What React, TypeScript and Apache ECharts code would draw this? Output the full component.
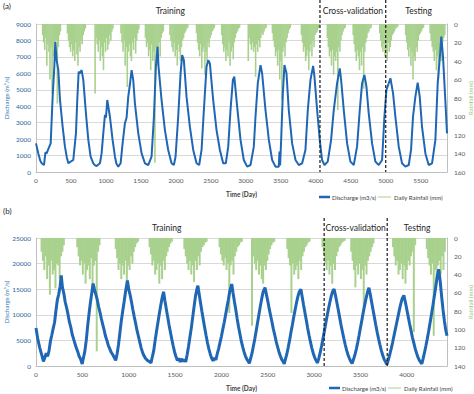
import React, { useEffect, useRef } from 'react';
import * as echarts from 'echarts';

// ---------- data ----------
const dayMaxA = 5876;
const dayMaxB = 4433;
const dayTickStep = 500;

const dischargeTicksA = { max: 9000, step: 1000 };
const dischargeTicksB = { max: 25000, step: 5000 };
const rainTicksA = { max: 160, step: 20 };
const rainTicksB = { max: 140, step: 20 };

// panel (a) discharge, [day, m3/s]
const dischargeA: [number, number][] = [
  [0,1740],[33,1130],[60,700],[81,530],[114,425],[135,1200],[152,1130],[190,1540],[210,1740],[238,4580],[262,6400],[276,7900],[295,6800],[319,6200],[343,4380],[381,2750],[414,1540],[440,900],[462,530],[495,630],
  [533,730],[571,2350],[590,4380],[610,6100],[630,6000],[652,6200],[676,5600],[714,3570],[748,1950],[781,930],[819,530],[845,400],[867,365],[914,530],
  [938,1130],[962,2350],[986,3470],[1000,3300],[1019,4380],[1057,3360],[1095,1950],[1129,930],[1150,500],[1176,325],[1210,530],
  [1238,1740],[1271,2960],[1295,3300],[1319,4580],[1345,5400],[1367,6200],[1390,5600],[1414,4180],[1462,2350],[1510,1130],[1557,530],[1605,425],
  [1652,930],[1686,3360],[1714,6400],[1738,7620],[1752,6400],[1795,4380],[1843,2550],[1890,1340],[1938,530],[1971,425],
  [1995,930],[2033,3360],[2067,6000],[2090,7110],[2114,6800],[2152,4580],[2200,2750],[2248,1340],[2295,530],[2333,425],
  [2367,1340],[2400,3770],[2438,6400],[2462,6800],[2486,6600],[2533,4380],[2581,2550],[2629,1340],[2676,530],[2714,530],
  [2748,1540],[2781,3770],[2815,5600],[2835,5800],[2876,3970],[2924,1950],[2971,730],[3019,325],[3067,425],
  [3114,1540],[3138,3360],[3171,5400],[3210,6500],[3233,6000],[3281,3770],[3329,1950],[3376,730],[3424,325],[3471,325],[3481,1240],[3490,400],
  [3505,1950],[3529,4780],[3552,6500],[3581,6000],[3614,3770],[3662,1740],[3710,730],[3757,425],[3805,530],
  [3852,1340],[3886,3770],[3924,5600],[3962,6450],[3981,5800],[4019,3770],[4057,1950],[4090,730],[4124,425],[4171,630],
  [4219,1950],[4257,3770],[4305,5400],[4343,6300],[4362,5600],[4400,3770],[4448,1740],[4495,630],[4543,425],
  [4590,1540],[4629,3770],[4662,5400],[4695,5900],[4724,5200],[4757,3570],[4805,1740],[4852,630],[4900,425],[4948,730],
  [4981,3360],[5010,4990],[5043,5400],[5067,5700],[5105,4780],[5138,3360],[5186,1540],[5233,530],[5281,325],[5329,425],
  [5362,1340],[5390,3360],[5424,4580],[5457,5430],[5486,4580],[5519,2750],[5567,1130],[5614,425],[5662,530],
  [5710,1950],[5743,5400],[5771,6800],[5795,8230],[5819,7000],[5852,4380],[5876,2350],
];

// panel (b) discharge, [day, m3/s]
const dischargeB: [number, number][] = [
  [0,7400],[20,5200],[40,3600],[60,2300],[80,900],[95,1600],[110,2500],[125,1900],[140,2900],[155,4800],[170,6000],[185,7300],[200,8500],[215,10800],[230,12900],[245,14000],[260,15600],[272,17700],[285,15400],[300,14200],[315,12500],[330,11400],[345,10100],[360,8600],[375,7600],[390,6200],[405,5300],[420,4400],[435,3500],[450,2800],[465,1900],[480,1400],[498,400],
  [512,1600],[527,2900],[542,5000],[557,7800],[572,10200],[587,12400],[602,14300],[616,16100],[630,15000],[645,14000],[660,13000],[675,11600],[690,10500],[705,9200],[720,8100],[735,7000],[750,5800],[765,5000],[780,4000],[795,3400],[810,2700],[825,2300],[840,1800],[860,1100],
  [875,2400],[890,4200],[905,6500],[920,8800],[935,10700],[950,12500],[965,14400],[986,16700],[1000,15000],[1015,13900],[1030,12500],[1045,11000],[1060,9600],[1075,8300],[1090,6900],[1105,5800],[1120,4600],[1135,3500],[1150,2600],[1165,2000],[1180,1500],[1200,1100],[1220,900],[1240,600],
  [1255,1800],[1270,3000],[1285,5000],[1300,6800],[1315,8500],[1330,10200],[1345,11800],[1360,13300],[1376,14500],[1390,12800],[1405,11200],[1420,9600],[1435,8000],[1450,6600],[1465,5200],[1480,3900],[1495,2700],[1510,1800],[1525,1100],[1540,1500],[1555,800],[1570,1400],[1585,900],[1600,1300],[1615,800],
  [1630,2200],[1645,3800],[1660,5600],[1675,7400],[1690,9500],[1705,11600],[1720,13600],[1735,15000],[1746,15700],[1760,14000],[1775,12300],[1790,10600],[1805,9000],[1820,7400],[1835,5900],[1850,4500],[1865,3300],[1880,2300],[1895,1500],[1910,1000],[1925,1600],[1940,1200],
  [1955,2400],[1970,3400],[1985,4600],[2000,5800],[2015,7200],[2030,8500],[2045,10000],[2060,11500],[2075,13000],[2090,14600],[2111,16000],[2125,14300],[2140,12600],[2155,11000],[2170,9200],[2185,7600],[2200,6200],[2215,4800],[2230,3700],[2245,2700],[2260,1900],[2275,1300],[2290,900],[2301,500],
  [2315,1500],[2330,2500],[2345,3900],[2360,5300],[2375,6900],[2390,8500],[2405,10100],[2420,11700],[2435,13200],[2450,14500],[2470,15300],[2485,14000],[2500,12700],[2515,11200],[2530,9900],[2545,8600],[2560,7200],[2575,6100],[2590,4800],[2605,3800],[2620,2800],[2635,2000],[2650,1300],[2665,900],[2677,400],
  [2690,1300],[2705,2300],[2720,3600],[2735,5000],[2750,6600],[2765,8000],[2780,9600],[2795,11000],[2810,12400],[2825,13600],[2840,14500],[2857,15000],[2870,13600],[2885,12000],[2900,10500],[2915,9000],[2930,7400],[2945,6000],[2960,4700],[2975,3500],[2990,2500],[3005,1700],[3020,1100],[3036,600],
  [3050,1500],[3065,2600],[3080,3900],[3095,5300],[3110,6800],[3125,8300],[3140,9800],[3155,11200],[3170,12500],[3185,13700],[3200,14600],[3215,15000],[3230,13800],[3245,12400],[3260,11000],[3275,9500],[3290,8000],[3305,6700],[3320,5400],[3335,4200],[3350,3100],[3365,2200],[3380,1500],[3395,900],[3410,500],
  [3425,1300],[3440,2200],[3455,3300],[3470,4600],[3485,6000],[3500,7500],[3515,9000],[3530,10500],[3545,11900],[3560,13200],[3575,14400],[3591,15300],[3605,14000],[3620,12500],[3635,11000],[3650,9500],[3665,8000],[3680,6600],[3695,5300],[3710,4100],[3725,3000],[3740,2100],[3755,1300],[3770,800],[3785,300],
  [3800,1200],[3815,2200],[3830,3300],[3845,4500],[3860,5800],[3875,7100],[3890,8400],[3905,9700],[3920,11000],[3935,12200],[3950,13200],[3968,13800],[3985,12400],[4000,11000],[4015,9600],[4030,8200],[4045,6900],[4060,5600],[4075,4500],[4090,3400],[4105,2500],[4120,1700],[4135,1100],[4150,700],[4161,400],
  [4175,1400],[4190,2600],[4205,3900],[4220,5300],[4235,6800],[4250,8400],[4265,10000],[4280,11700],[4295,13500],[4310,15300],[4325,17200],[4344,18900],[4360,16500],[4375,13600],[4390,11000],[4405,8800],[4420,7000],[4433,5900],
];

// daily rainfall (mm), wet seasons sampled every RAIN_STEP days from each start day
const RAIN_STEP = 15;
const rainStartsA = [95, 450, 845, 1215, 1565, 1915, 2295, 2655, 3035, 3380, 3795, 4165, 4535, 4915, 5285, 5635];
const rainA: number[][] = [
  [12, 20, 28, 15, 45, 22, 30, 60, 25, 75, 35, 20, 40, 18, 86, 25, 12, 8],
  [10, 18, 25, 30, 22, 35, 28, 40, 20, 33, 45, 25, 30, 18, 22, 12, 8, 5],
  [75, 15, 22, 30, 18, 40, 25, 35, 50, 20, 30, 15, 28, 22, 12, 18, 8, 5],
  [10, 20, 30, 18, 45, 25, 68, 30, 22, 35, 40, 20, 28, 15, 32, 18, 10, 6],
  [15, 25, 20, 35, 28, 50, 22, 40, 30, 150, 25, 45, 30, 20, 35, 15, 10, 8],
  [12, 18, 25, 30, 20, 35, 28, 45, 22, 30, 40, 25, 18, 15, 10, 8, 5, 4],
  [10, 20, 28, 35, 22, 48, 30, 25, 55, 30, 40, 20, 25, 15, 12, 8, 6, 4],
  [12, 22, 30, 25, 40, 28, 35, 20, 45, 30, 25, 38, 20, 15, 10, 8, 5, 4],
  [40, 15, 22, 28, 20, 30, 25, 57, 22, 30, 18, 25, 15, 10, 12, 8, 5, 4],
  [10, 18, 25, 35, 30, 45, 28, 60, 40, 82, 30, 25, 35, 20, 15, 10, 6, 4],
  [12, 20, 30, 25, 40, 35, 28, 50, 30, 22, 35, 18, 25, 12, 10, 8, 5, 4],
  [15, 25, 35, 30, 45, 28, 55, 35, 40, 30, 93, 25, 30, 18, 12, 8, 5, 4],
  [12, 22, 30, 40, 28, 35, 50, 30, 45, 25, 70, 30, 20, 15, 10, 8, 5, 4],
  [10, 18, 25, 30, 22, 35, 28, 40, 20, 30, 25, 18, 12, 10, 8, 5, 4, 3],
  [12, 20, 28, 35, 25, 45, 30, 60, 35, 40, 25, 30, 18, 12, 10, 8, 5, 4],
  [10, 18, 25, 30, 40, 28, 50, 35, 60, 30, 25, 40, 20, 15, 12],
];
const rainStartsB = [60, 445, 860, 1225, 1600, 1980, 2330, 2710, 3090, 3400, 3850, 4215];
const rainB: number[][] = [
  [15, 25, 35, 20, 45, 30, 62, 25, 40, 35, 55, 28, 30, 45, 20, 15, 8],
  [10, 20, 30, 25, 40, 28, 50, 35, 30, 45, 22, 60, 30, 25, 124, 15, 8],
  [12, 22, 35, 28, 45, 30, 40, 25, 55, 30, 35, 20, 28, 15, 10, 6, 4],
  [10, 18, 30, 25, 40, 35, 28, 50, 30, 45, 25, 35, 20, 15, 10, 6, 4],
  [12, 20, 28, 35, 25, 40, 30, 48, 25, 35, 20, 30, 15, 10, 8, 5, 4],
  [10, 18, 25, 30, 22, 35, 28, 82, 30, 25, 40, 20, 15, 10, 8, 5, 4],
  [96, 20, 28, 35, 25, 40, 30, 45, 50, 30, 35, 25, 18, 12, 8, 5, 4],
  [12, 22, 30, 82, 28, 40, 35, 30, 45, 25, 35, 20, 15, 10, 8, 5, 4],
  [10, 18, 28, 35, 25, 40, 30, 50, 28, 35, 20, 15, 10, 8, 5, 4, 3],
  [15, 25, 35, 54, 30, 40, 28, 45, 35, 78, 30, 40, 25, 20, 15, 10, 6],
  [10, 20, 30, 25, 40, 35, 28, 45, 30, 50, 35, 25, 30, 20, 15, 103, 8],
  [12, 22, 30, 40, 28, 107, 35, 45, 30, 25, 40, 20, 35, 15],
];

const splitsA = [4060, 5000];
const splitsB = [3108, 3788];
const phaseLabels = ['Training', 'Cross-validation', 'Testing'];
const phaseLabelDaysA = [1920, 4530, 5470];
const phaseLabelDaysB = [1410, 3448, 4110];

const seriesNames = ['Discharge (m3/s)', 'Daily Rainfall (mm)'];

// ---------- styles ----------
const BLUE = '#1f67b4';
const GREEN = '#a9d18e';
const FONT = 'Lato';
const GRID_A = { left: 36, top: 24, width: 411, height: 148 };
const GRID_B = { left: 36, top: 238, width: 411, height: 128 };

function buildRain(starts: number[], seasons: number[][]) {
  const out: [number, number][] = [];
  seasons.forEach((vals, k) => vals.forEach((v, i) => out.push([starts[k] + i * RAIN_STEP, v])));
  return out;
}

export default function App() {
  const ref = useRef<HTMLDivElement>(null);

  useEffect(() => {
    const el = ref.current!;
    const chart = echarts.init(el, null, { renderer: 'svg' });

    const axisLine = { show: true, lineStyle: { color: '#bfbfbf', width: 1 } };
    const tickLabel = { color: '#595959', fontSize: 6.5, fontFamily: FONT };
    const mkX = (gridIndex: number, max: number) => ({
      type: 'value', gridIndex, min: 0, max, interval: dayTickStep,
      axisLine, axisTick: { show: false }, splitLine: { show: false },
      axisLabel: { ...tickLabel, margin: 5, showMaxLabel: false, formatter: (v: number) => String(v) },
      name: 'Time (Day)', nameLocation: 'middle', nameGap: 19, nameMoveOverlap: false,
      nameTextStyle: { fontSize: 6.5, fontWeight: 'bold', color: '#404040', fontFamily: FONT },
    });
    const mkYLeft = (gridIndex: number, t: { max: number; step: number }) => ({
      type: 'value', gridIndex, min: 0, max: t.max, interval: t.step, position: 'left',
      axisLine, axisTick: { show: false },
      splitLine: { show: true, lineStyle: { color: '#d9d9d9', width: 1 } },
      axisLabel: { ...tickLabel, color: '#2f5f98', margin: 5, formatter: (v: number) => String(v) },
      name: 'Discharge (m\u00b3/s)', nameLocation: 'middle', nameGap: 27, nameMoveOverlap: false,
      nameTextStyle: { fontSize: 6, color: '#2e75b6', fontFamily: FONT },
    });
    const mkYRight = (gridIndex: number, t: { max: number; step: number }) => ({
      type: 'value', gridIndex, min: 0, max: t.max, interval: t.step, position: 'right', inverse: true,
      axisLine, axisTick: { show: false }, splitLine: { show: false },
      axisLabel: { ...tickLabel, margin: 7, formatter: (v: number) => String(v) },
      name: 'Rainfall (mm)', nameLocation: 'middle', nameGap: 20, nameMoveOverlap: false,
      nameTextStyle: { fontSize: 6, color: '#9cc47f', fontFamily: FONT },
    });

    const option: any = {
      animation: false,
      backgroundColor: '#ffffff',
      textStyle: { fontFamily: FONT },
      grid: [
        { ...GRID_A, containLabel: false, outerBoundsMode: 'none' },
        { ...GRID_B, containLabel: false, outerBoundsMode: 'none' },
      ],
      xAxis: [mkX(0, dayMaxA), mkX(1, dayMaxB)],
      yAxis: [mkYLeft(0, dischargeTicksA), mkYRight(0, rainTicksA), mkYLeft(1, dischargeTicksB), mkYRight(1, rainTicksB)],
      series: [
        {
          name: seriesNames[1], type: 'bar', xAxisIndex: 0, yAxisIndex: 1,
          data: buildRain(rainStartsA, rainA), barWidth: 1.6,
          itemStyle: { color: GREEN }, z: 2,
        },
        {
          name: seriesNames[0], type: 'line', xAxisIndex: 0, yAxisIndex: 0,
          data: dischargeA, showSymbol: false, symbol: 'none',
          lineStyle: { color: BLUE, width: 2 }, z: 3,
        },
        {
          name: seriesNames[1], type: 'bar', xAxisIndex: 1, yAxisIndex: 3,
          data: buildRain(rainStartsB, rainB), barWidth: 2,
          itemStyle: { color: GREEN }, z: 2,
        },
        {
          name: seriesNames[0], type: 'line', xAxisIndex: 1, yAxisIndex: 2,
          data: dischargeB, showSymbol: false, symbol: 'none',
          lineStyle: { color: BLUE, width: 3 }, z: 3,
        },
      ],
    };
    chart.setOption(option);

    const px = (xi: number, d: number) => chart.convertToPixel({ xAxisIndex: xi } as any, d) as number;
    const g: any[] = [];
    const dash = { stroke: '#1a1a1a', lineWidth: 1.2, lineDash: [3, 2] };
    splitsA.forEach((d) => {
      const x = px(0, d);
      g.push({ type: 'line', silent: true, z: 10, shape: { x1: x, y1: 0, x2: x, y2: GRID_A.top + GRID_A.height }, style: dash });
    });
    splitsB.forEach((d) => {
      const x = px(1, d);
      g.push({ type: 'line', silent: true, z: 10, shape: { x1: x, y1: GRID_B.top - 20, x2: x, y2: GRID_B.top + GRID_B.height }, style: dash });
    });
    const titleStyle = { fill: '#262626', fontSize: 8.5, fontFamily: FONT, align: 'center', verticalAlign: 'middle' };
    phaseLabels.forEach((t, i) => {
      g.push({ type: 'text', silent: true, x: px(0, phaseLabelDaysA[i]), y: 11, style: { ...titleStyle, text: t } });
      g.push({ type: 'text', silent: true, x: px(1, phaseLabelDaysB[i]), y: 228, style: { ...titleStyle, text: t } });
    });
    const panelStyle = { fill: '#262626', fontSize: 8, fontFamily: FONT, verticalAlign: 'middle' };
    g.push({ type: 'text', silent: true, x: 3, y: 6, style: { ...panelStyle, text: '(a)' } });
    g.push({ type: 'text', silent: true, x: 3, y: 211, style: { ...panelStyle, text: '(b)' } });

    const legend = (x0: number, y: number) => {
      const ls = { fill: '#404040', fontSize: 6, fontFamily: FONT, verticalAlign: 'middle' };
      g.push({ type: 'line', silent: true, shape: { x1: x0, y1: y, x2: x0 + 11, y2: y }, style: { stroke: BLUE, lineWidth: 2.5 } });
      g.push({ type: 'text', silent: true, x: x0 + 13, y, style: { ...ls, text: seriesNames[0] } });
      g.push({ type: 'line', silent: true, shape: { x1: x0 + 59, y1: y, x2: x0 + 72, y2: y }, style: { stroke: GREEN, lineWidth: 1 } });
      g.push({ type: 'text', silent: true, x: x0 + 75, y, style: { ...ls, text: seriesNames[1] } });
    };
    legend(319, 197);
    legend(329, 388);

    chart.setOption({ graphic: g });

    return () => chart.dispose();
  }, []);

  return <div ref={ref} style={{ position: 'fixed', left: 0, top: 0, width: 474, height: 394 }} />;
}
